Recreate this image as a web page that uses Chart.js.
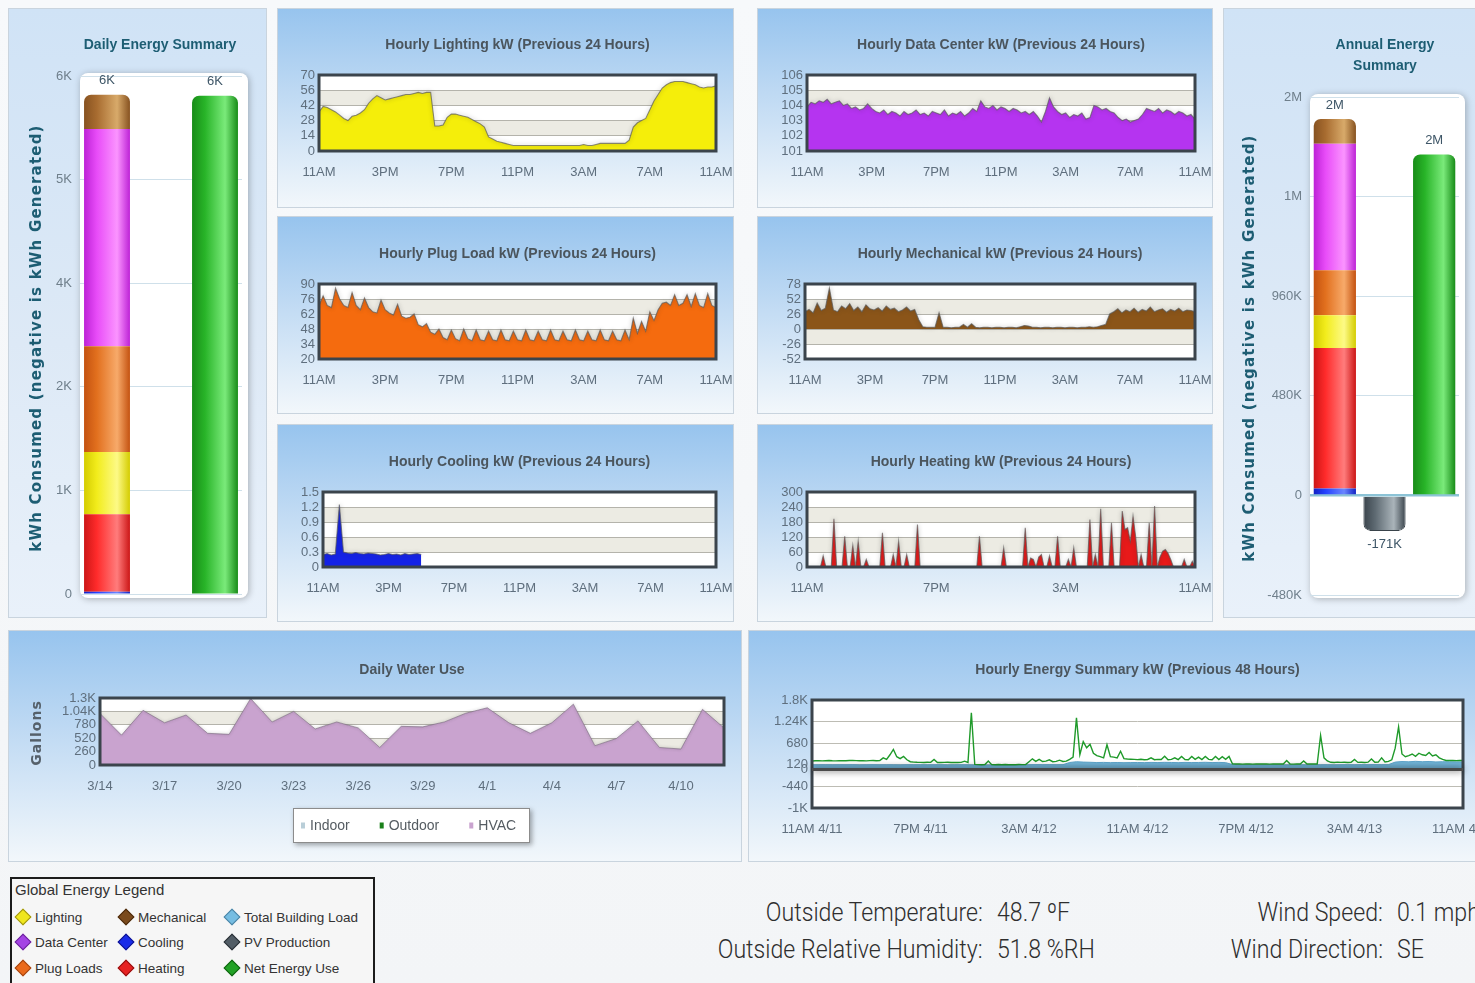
<!DOCTYPE html>
<html lang="en">
<head>
<meta charset="utf-8">
<title>Building Energy Dashboard</title>
<script src="https://cdn.jsdelivr.net/npm/chart.js@4.4.1/dist/chart.umd.min.js"></script>
<style>
  html, body { margin: 0; padding: 0; }
  body {
    width: 1475px; height: 983px; overflow: hidden; position: relative;
    background: linear-gradient(to bottom, #f7f9fb 0%, #f3f5f7 100%);
    font-family: 'Liberation Sans', Arial, sans-serif;
  }
  .panel {
    position: absolute; box-sizing: border-box; overflow: hidden;
    border: 1px solid #c9d4de;
    background: linear-gradient(to bottom, #97c4ee 0%, #bed9f3 42%, #f2f7fb 100%);
  }
  .panel.pale { background: linear-gradient(to bottom, #d0e3f6 0%, #dde9f6 55%, #e9f1fa 100%); }
  .panel canvas { position: absolute; left: -1px; top: -1px; }

  #glegend {
    position: absolute; left: 10px; top: 877px; width: 365px; height: 120px;
    box-sizing: border-box; border: 2px solid #1c1c1c; background: #f6f6f6;
    color: #333; font-family: 'Liberation Sans', Arial, sans-serif;
  }
  #glegend .gtitle { position: absolute; left: 3px; top: 2px; font-size: 15px; line-height: 18px; }
  #glegend .gi { position: absolute; height: 18px; display: flex; align-items: center; font-size: 13.5px; white-space: nowrap; }
  #glegend .gi i {
    display: inline-block; width: 10px; height: 10px; margin: 0 6px 0 2px;
    transform: rotate(45deg); background: var(--c); border: 1px solid var(--b);
  }

  .wx { position: absolute; font-family: Roboto, 'Liberation Sans', sans-serif; font-weight: 300;
        font-size: 26px; line-height: 30px; color: #2e2e2e; white-space: nowrap; }
  .wx.lab { text-align: right; transform: scaleX(0.89); transform-origin: right center; }
  .wx.val { transform: scaleX(0.89); transform-origin: left center; }
</style>
</head>
<body>

<div class="panel pale" style="left:8px;top:8px;width:259px;height:610px"><canvas id="cDaily" width="259" height="610"></canvas></div>

<div class="panel" style="left:277px;top:8px;width:457px;height:200px"><canvas id="cLight" width="457" height="200"></canvas></div>
<div class="panel" style="left:757px;top:8px;width:456px;height:200px"><canvas id="cData" width="456" height="200"></canvas></div>
<div class="panel" style="left:277px;top:216px;width:457px;height:198px"><canvas id="cPlug" width="457" height="198"></canvas></div>
<div class="panel" style="left:757px;top:216px;width:456px;height:198px"><canvas id="cMech" width="456" height="198"></canvas></div>
<div class="panel" style="left:277px;top:424px;width:457px;height:198px"><canvas id="cCool" width="457" height="198"></canvas></div>
<div class="panel" style="left:757px;top:424px;width:456px;height:198px"><canvas id="cHeat" width="456" height="198"></canvas></div>

<div class="panel pale" style="left:1223px;top:8px;width:270px;height:610px"><canvas id="cAnnual" width="270" height="610"></canvas></div>

<div class="panel" style="left:8px;top:630px;width:734px;height:232px"><canvas id="cWater" width="734" height="232"></canvas></div>
<div class="panel" style="left:748px;top:630px;width:760px;height:232px"><canvas id="cSummary" width="760" height="232"></canvas></div>

<div id="glegend">
  <div class="gtitle">Global Energy Legend</div>
  <div class="gi" style="left:3px;top:29px"><i style="--c:#efe61e;--b:#9c9210"></i>Lighting</div>
  <div class="gi" style="left:3px;top:54px"><i style="--c:#a443e4;--b:#6a2398"></i>Data Center</div>
  <div class="gi" style="left:3px;top:80px"><i style="--c:#ea6a1c;--b:#a04410"></i>Plug Loads</div>
  <div class="gi" style="left:106px;top:29px"><i style="--c:#7a4a1c;--b:#4a2a0c"></i>Mechanical</div>
  <div class="gi" style="left:106px;top:54px"><i style="--c:#1a2ce8;--b:#10148a"></i>Cooling</div>
  <div class="gi" style="left:106px;top:80px"><i style="--c:#e62222;--b:#901010"></i>Heating</div>
  <div class="gi" style="left:212px;top:29px"><i style="--c:#76bde2;--b:#4a82a2"></i>Total Building Load</div>
  <div class="gi" style="left:212px;top:54px"><i style="--c:#525d66;--b:#2a3036"></i>PV Production</div>
  <div class="gi" style="left:212px;top:80px"><i style="--c:#22a226;--b:#106010"></i>Net Energy Use</div>
</div>

<div class="wx lab" style="top:897px;right:492px">Outside Temperature:</div>
<div class="wx val" style="top:897px;left:997px">48.7 ºF</div>
<div class="wx lab" style="top:934px;right:492px">Outside Relative Humidity:</div>
<div class="wx val" style="top:934px;left:997px">51.8 %RH</div>
<div class="wx lab" style="top:897px;right:92px">Wind Speed:</div>
<div class="wx val" style="top:897px;left:1397px">0.1 mph</div>
<div class="wx lab" style="top:934px;right:92px">Wind Direction:</div>
<div class="wx val" style="top:934px;left:1397px">SE</div>

<script>
// ---- Energy breakdown (kWh) ----
const LOAD_SERIES = ['Cooling', 'Heating', 'Lighting', 'Plug Loads', 'Data Center', 'Mechanical'];
const BAR_CATEGORIES = ['Consumption', 'PV Production', 'Net Energy Use'];
const DAILY_LOAD_KWH = [25, 900, 720, 1225, 2515, 399];
const DAILY_PV_KWH = -12;
const ANNUAL_LOAD_KWH = [33000, 677000, 158000, 217000, 610000, 119000];
const ANNUAL_PV_KWH = -171000;

// ---- Hourly loads, previous 24 hours (15-minute samples from 11AM) ----
const HOUR_TICKS = ['11AM', '3PM', '7PM', '11PM', '3AM', '7AM', '11AM'];
const HEAT_TICKS = ['11AM', '7PM', '3AM', '11AM'];

const LIGHTING_KW = [
  36, 41, 40, 38, 36, 33, 30, 28, 32, 33, 35, 38, 44, 48, 51, 49,
  47, 48, 49, 50, 51, 52, 52, 53, 54, 53, 54, 54, 23, 23, 24, 31,
  34, 34, 33, 32, 31, 29, 27, 25, 22, 13, 11, 9, 8, 7, 6, 5,
  5, 5, 5, 5, 5, 5, 5, 5, 5, 5, 5, 5, 5, 5, 5, 5,
  6, 5, 5, 6, 7, 7, 7, 7, 7, 7, 7, 10, 22, 26, 28, 30,
  38, 46, 52, 58, 61, 63, 64, 64, 64, 63, 62, 61, 59, 58, 59, 59,
  60
];
const DATA_CENTER_KW = [
  103.9, 104.2, 104.1, 104.3, 104.2, 104.4, 104.1, 104.2, 104.3,
  104.0, 104.1, 103.8, 103.9, 103.7, 103.8, 104.1, 103.8,
  103.6, 103.5, 103.7, 103.4, 103.6, 103.5, 103.3, 103.6, 103.4, 103.5, 103.7, 103.4,
  103.5, 103.3, 103.6, 103.5, 103.4, 103.7, 103.3, 103.5, 103.4, 103.6, 103.3, 103.5,
  103.8, 103.6, 104.3, 103.9,
  103.8, 104.0, 103.7, 103.9, 103.8, 103.6, 103.8, 103.7, 103.5, 103.6, 103.4, 103.6,
  103.3, 102.9, 103.6, 104.5, 103.9,
  103.6, 103.4, 103.5, 103.2, 103.4, 103.3, 103.5,
  103.1, 103.2, 104.0, 103.9, 103.7, 103.8, 103.6, 103.5,
  103.2, 103.0, 103.1, 102.9, 103.0, 103.1,
  103.4, 103.8, 103.7, 103.6, 103.8, 103.5, 103.7, 103.6, 103.4, 103.6, 103.5, 103.3, 103.4, 103.1
];
const PLUG_KW = [
  70, 79, 70, 68, 86, 76, 70, 68, 82, 70, 66, 77, 68, 64, 63, 75,
  66, 63, 61, 71, 60, 58, 59, 62, 52, 50, 53, 45, 43, 48, 40, 38,
  47, 39, 37, 48, 39, 37, 47, 38, 37, 46, 38, 37, 47, 38, 37, 46,
  38, 37, 47, 38, 37, 46, 38, 37, 47, 38, 37, 46, 38, 37, 47, 38,
  37, 46, 38, 37, 47, 38, 37, 46, 38, 37, 47, 38, 58, 44, 55, 46,
  64, 56, 66, 72, 73, 70, 80, 70, 72, 80, 69, 81, 70, 68, 81, 70,
  68
];
const MECHANICAL_KW = [
  30, 34, 28, 45, 32, 36, 71, 33, 30, 40, 35, 44, 32, 38, 30, 42,
  35, 33, 37, 31, 40, 34, 36, 30, 33, 38, 31, 34, 16, 4, 3, 3,
  3, 28, 3, 3, 2, 3, 3, 8, 3, 9, 3, 2, 3, 3, 2, 3,
  3, 2, 3, 3, 2, 4, 6, 5, 3, 3, 2, 3, 3, 2, 3, 3,
  2, 3, 3, 2, 3, 3, 4, 3, 4, 6, 8, 26, 30, 35, 28, 33,
  30, 36, 29, 34, 31, 38, 30, 33, 35, 29, 34, 31, 36, 30, 33, 32,
  30
];
// cooling readings stop shortly after 5PM
const COOLING_KW = [
  0.25, 0.27, 0.24, 0.26, 1.25, 0.30, 0.28, 0.27, 0.29, 0.27, 0.26, 0.28, 0.27,
  0.26, 0.24, 0.25, 0.27, 0.25, 0.26, 0.24, 0.27, 0.25, 0.26, 0.27, 0.25
];
// heating uses 10-minute samples
const HEATING_KW = [
  0, 0, 0, 0, 0, 0, 45, 0, 0, 0, 193, 0,
  0, 0, 123, 0, 0, 86, 0, 103, 0, 0, 30, 0,
  0, 0, 0, 0, 137, 0, 0, 0, 50, 0, 103, 0,
  0, 50, 0, 0, 0, 170, 0, 0, 0, 0, 0, 0,
  0, 0, 0, 0, 0, 0, 0, 0, 0, 0, 0, 0,
  0, 0, 0, 0, 123, 0, 0, 0, 0, 0, 0, 0,
  0, 76, 0, 0, 0, 0, 0, 0, 0, 157, 0, 36,
  30, 0, 40, 50, 0, 0, 45, 0, 0, 123, 0, 0,
  0, 30, 0, 76, 0, 0, 0, 0, 0, 190, 0, 50,
  0, 233, 0, 0, 0, 177, 0, 0, 0, 224, 150, 157,
  103, 203, 120, 0, 50, 0, 0, 177, 0, 244, 0, 40,
  63, 70, 55, 30, 0, 0, 0, 0, 30, 0, 0, 23,
  0
];

// ---- Daily water use (gallons) ----
const WATER_DAYS = ['3/14', '3/15', '3/16', '3/17', '3/18', '3/19', '3/20', '3/21', '3/22', '3/23',
  '3/24', '3/25', '3/26', '3/27', '3/28', '3/29', '3/30', '3/31', '4/1', '4/2',
  '4/3', '4/4', '4/5', '4/6', '4/7', '4/8', '4/9', '4/10', '4/11', '4/12'];
const WATER_INDOOR = [];
const WATER_OUTDOOR = [];
const WATER_HVAC = [1000, 580, 1060, 820, 970, 615, 595, 1290, 835, 1040,
  700, 835, 720, 340, 750, 740, 835, 1005, 1110, 820,
  615, 820, 1180, 375, 515, 855, 340, 310, 1080, 720];

// ---- Previous 48 hours (net use every 15 min, building load every 30 min) ----
const SUMMARY_TICKS = ['11AM 4/11', '7PM 4/11', '3AM 4/12', '11AM 4/12', '7PM 4/12', '3AM 4/13', '11AM 4/13'];
const NET_USE_KW = [
  220, 225, 228, 222, 226, 230, 224, 222, 228, 226, 225, 230, 235, 228, 226, 224,
  222, 228, 230, 226, 228, 300, 260, 380, 520, 330, 280, 336, 250, 200, 190, 185,
  182, 180, 185, 183, 260, 180, 178, 182, 185, 180, 183, 181, 184, 215, 182, 1470,
  130, 125, 122, 128, 220, 124, 120, 126, 123, 127, 122, 125, 121, 128, 124, 126,
  200, 275, 210, 260, 205, 215, 250, 200, 210, 240, 205, 215, 260, 320, 1340, 380,
  720, 560, 650, 420, 360, 330, 300, 640, 330, 320, 300, 470, 280, 270, 265, 260,
  255, 262, 250, 258, 300, 252, 260, 256, 340, 250, 262, 300, 255, 336, 258, 250,
  336, 260, 320, 255, 336, 262, 250, 336, 258, 330, 260, 336, 145, 140, 142, 138,
  140, 142, 138, 141, 139, 143, 140, 138, 142, 140, 141, 139, 230, 140, 138, 141,
  140, 220, 139, 142, 140, 141, 880, 300, 220, 185, 180, 190, 182, 186, 180, 184,
  260, 182, 185, 180, 188, 270, 186, 190, 300, 195, 210, 250, 550, 1100, 400, 330,
  360, 400, 340, 420, 380, 360, 440, 350, 380, 300, 260, 232, 230, 235, 228, 232,
  230
];
const BUILDING_LOAD_KW = [
  118, 120, 122, 119, 121, 120, 123, 118, 120, 122, 119, 121, 120, 118, 122, 120,
  121, 119, 120, 122, 118, 120, 121, 119, 115, 112, 114, 113, 115, 112, 114, 116,
  120, 125, 122, 124, 121, 123, 180, 200, 190, 185, 178, 182, 176, 180, 175, 178,
  180, 176, 182, 178, 184, 180, 176, 182, 178, 180, 185, 178, 182, 176, 125, 118,
  116, 118, 115, 117, 119, 116, 118, 115, 120, 118, 122, 119, 121, 118, 120, 122,
  120, 123, 121, 125, 122, 124, 190, 205, 198, 210, 200, 206, 195, 200, 198, 196,
  195
];

// ---- Shared styling ----
const TICK_COLOR = '#5f6f7e';
const TITLE_COLOR = '#4b555d';
const TEAL = '#1d5d73';
const BAND = '#ecebe3';
const BAR_FRACTION = 0.85;
const TITLE_FONT = 'bold 14px "Liberation Sans", Arial, sans-serif';
const LOAD_SHADES = [
  ['#1222c4', '#2442ff', '#6a86ff'],
  ['#cc1616', '#ff2b2b', '#ff7c7c'],
  ['#d4cc00', '#f2ec1c', '#fdfa86'],
  ['#c45210', '#e2701e', '#f7aa6a'],
  ['#bd22d6', '#e84cf8', '#fb94ff'],
  ['#875220', '#a86c30', '#d8aa6a']
];
const PV_SHADE = ['#3a444c', '#5e6a72', '#aab4ba'];
const NET_SHADE = ['#188c18', '#28b428', '#7aea7a'];

Chart.defaults.font.family = "'Liberation Sans', Arial, sans-serif";

// keep axis label overhang from shrinking the plot area
const fixX = h => s => { s.height = h; s.paddingLeft = 0; s.paddingRight = 0; };
const fixY = w => s => { s.width = w; s.paddingTop = 0; s.paddingBottom = 0; };

// ---- Drawing helpers ----
function captions(items) {
  return {
    id: 'captions',
    afterDraw(chart) {
      const c = chart.ctx, a = chart.chartArea;
      items.forEach(t => {
        c.save();
        c.font = t.font;
        c.fillStyle = t.color;
        c.textAlign = 'center';
        c.textBaseline = 'middle';
        if (t.spacing) c.letterSpacing = t.spacing;
        const x = t.x === 'center' ? (a.left + a.right) / 2 : t.x;
        c.translate(x, t.y);
        if (t.rotate) c.rotate(t.rotate);
        c.fillText(t.text, 0, 0);
        c.restore();
      });
    }
  };
}

function plotBands(withBands) {
  return {
    id: 'plotBands',
    beforeDraw(chart) {
      const c = chart.ctx, a = chart.chartArea, y = chart.scales.y;
      c.save();
      c.fillStyle = '#ffffff';
      c.fillRect(a.left, a.top, a.width, a.height);
      if (withBands) {
        const vals = y.ticks.map(t => t.value).sort((p, q) => q - p);
        c.fillStyle = BAND;
        for (let k = 1; k < vals.length - 1; k += 2) {
          const y1 = y.getPixelForValue(vals[k]);
          const y2 = y.getPixelForValue(vals[k + 1]);
          c.fillRect(a.left, y1, a.width, y2 - y1);
        }
      }
      c.restore();
    },
    afterDatasetsDraw(chart) {
      const c = chart.ctx, a = chart.chartArea;
      c.save();
      c.strokeStyle = '#3b444c';
      c.lineWidth = 3;
      c.strokeRect(a.left, a.top, a.width, a.height);
      c.restore();
    }
  };
}

function glow(blur) {
  return {
    id: 'glow',
    beforeDatasetDraw(chart) {
      const c = chart.ctx;
      c.save();
      c.shadowColor = 'rgba(40,40,40,0.5)';
      c.shadowBlur = blur;
    },
    afterDatasetDraw(chart) { chart.ctx.restore(); }
  };
}

function hourlyPanel(id, o) {
  const el = document.getElementById(id);
  const H = el.height;
  return new Chart(el, {
    type: 'line',
    data: {
      datasets: [{
        data: o.values.map((v, i) => ({ x: i * o.step, y: v })),
        backgroundColor: o.color,
        borderColor: 'rgba(90,90,90,0.7)',
        borderWidth: 1.1,
        fill: o.fill || 'start',
        pointRadius: 0,
        tension: 0
      }]
    },
    options: {
      responsive: false, animation: false, events: [],
      layout: { padding: { left: 0, top: o.top, right: o.right, bottom: H - o.bottom - 30 } },
      plugins: { legend: { display: false }, tooltip: { enabled: false } },
      scales: {
        x: {
          type: 'linear', min: 0, max: 24,
          grid: { display: false }, border: { display: false },
          ticks: {
            stepSize: o.tickStep, autoSkip: false, maxRotation: 0, padding: 6,
            color: TICK_COLOR, font: { size: 13 },
            callback: (v, i) => o.ticks[i]
          },
          afterFit: fixX(30)
        },
        y: {
          min: o.min, max: o.max,
          grid: { color: '#b4b3ab', drawTicks: false },
          border: { display: false },
          ticks: {
            stepSize: o.yStep, autoSkip: false, padding: 4,
            color: TICK_COLOR, font: { size: 13 },
            callback: o.fmt || (v => String(v))
          },
          afterFit: fixY(o.left)
        }
      }
    },
    plugins: [
      plotBands(true), glow(4),
      captions([{ text: o.title, x: 'center', y: o.titleY, font: TITLE_FONT, color: TITLE_COLOR }])
    ]
  });
}

// cylindrical shading across a bar's width
function cylinder(shade) {
  return ctx => {
    const chart = ctx.chart, xs = chart.scales.x;
    if (ctx.type !== 'data' || !xs || !chart.chartArea) return shade[1];
    const cx = xs.getPixelForValue(ctx.dataIndex);
    const half = xs.width / chart.data.labels.length * BAR_FRACTION / 2;
    const g = chart.ctx.createLinearGradient(cx - half, 0, cx + half, 0);
    g.addColorStop(0, shade[0]);
    g.addColorStop(0.28, shade[1]);
    g.addColorStop(0.72, shade[2]);
    g.addColorStop(1, shade[0]);
    return g;
  };
}

function barValueLabels(entries) {
  return {
    id: 'barValueLabels',
    afterDatasetsDraw(chart) {
      const c = chart.ctx, xs = chart.scales.x, ys = chart.scales.y;
      c.save();
      c.font = '13px "Liberation Sans", Arial, sans-serif';
      c.fillStyle = '#3e5667';
      c.textAlign = 'center';
      c.textBaseline = 'middle';
      entries.forEach(e => {
        const y = ys.getPixelForValue(e.value) + (e.below ? 14 : -14);
        c.fillText(e.text, xs.getPixelForValue(e.index), y);
      });
      c.restore();
    }
  };
}

function roundedPlot(pad) {
  return {
    id: 'roundedPlot',
    beforeDraw(chart) {
      const c = chart.ctx, a = chart.chartArea;
      c.save();
      c.shadowColor = 'rgba(0,0,0,0.28)';
      c.shadowBlur = 7;
      c.shadowOffsetX = 1;
      c.shadowOffsetY = 1;
      c.fillStyle = '#ffffff';
      c.beginPath();
      c.roundRect(a.left - pad.l, a.top - pad.t, a.width + pad.l + pad.r, a.height + pad.t + pad.b, 8);
      c.fill();
      c.restore();
    }
  };
}

function energyBars(id, o) {
  const el = document.getElementById(id);
  const H = el.height;
  const total = o.loads.reduce((s, v) => s + v, 0);
  const net = total + o.pv;
  const datasets = LOAD_SERIES.map((name, k) => ({
    label: name,
    data: [o.loads[k], null, null],
    backgroundColor: cylinder(LOAD_SHADES[k]),
    borderRadius: k === LOAD_SERIES.length - 1 ? 7 : 0
  }));
  datasets.push({ label: 'PV Production', data: [null, o.pv, null], backgroundColor: cylinder(PV_SHADE),
    borderRadius: 7, borderWidth: 1, borderColor: '#39434a' });
  datasets.push({ label: 'Net Energy Use', data: [null, null, net], backgroundColor: cylinder(NET_SHADE),
    borderRadius: 7 });
  const labels = [{ index: 0, value: total, text: o.fmt(total) }, { index: 2, value: net, text: o.fmt(net) }];
  if (o.showPv) labels.push({ index: 1, value: o.pv, text: o.fmt(o.pv), below: true });
  return new Chart(el, {
    type: 'bar',
    data: { labels: BAR_CATEGORIES, datasets },
    options: {
      responsive: false, animation: false, events: [],
      datasets: { bar: { barPercentage: BAR_FRACTION, categoryPercentage: 1, borderWidth: 0 } },
      layout: { padding: { left: 0, top: o.top, right: o.right, bottom: H - o.bottom } },
      plugins: { legend: { display: false }, tooltip: { enabled: false } },
      scales: {
        x: { stacked: true, display: false },
        y: {
          stacked: true, min: o.min, max: o.max,
          grid: {
            drawTicks: false,
            color: c => (c.tick && c.tick.value === 0 && o.min < 0) ? '#8cc3d6' : '#cfe0ea',
            lineWidth: c => (c.tick && c.tick.value === 0 && o.min < 0) ? 2.5 : 1
          },
          border: { display: false },
          ticks: { stepSize: o.step, autoSkip: false, padding: 8, color: '#6f7f8b', font: { size: 13 }, callback: o.fmt },
          afterFit: fixY(o.left)
        }
      }
    },
    plugins: [roundedPlot(o.plotPad), barValueLabels(labels), captions(o.captions)]
  });
}

const shortK = v => v === 0 ? '0' : Math.round(v / 1000) + 'K';
const shortKM = v => v === 0 ? '0' : (Math.abs(v) >= 1e6 ? Math.round(v / 1e6) + 'M' : Math.round(v / 1000) + 'K');
const axisTitleFont = 'bold 15px "DejaVu Sans", Verdana, sans-serif';

// ---- Daily energy summary ----
energyBars('cDaily', {
  loads: DAILY_LOAD_KWH, pv: DAILY_PV_KWH, showPv: false,
  min: 0, max: 6000, step: 1200, fmt: shortK,
  left: 72, right: 25, top: 68, bottom: 586,
  plotPad: { l: 0, r: 6, t: 3, b: 4 },
  captions: [
    { text: 'Daily Energy Summary', x: 152, y: 37, font: TITLE_FONT, color: TEAL },
    { text: 'kWh Consumed (negative is kWh Generated)', x: 29, y: 330, rotate: -Math.PI / 2, font: axisTitleFont, color: TEAL, spacing: '1.2px' }
  ]
});

// ---- Annual energy summary ----
energyBars('cAnnual', {
  loads: ANNUAL_LOAD_KWH, pv: ANNUAL_PV_KWH, showPv: true,
  min: -480000, max: 1920000, step: 480000, fmt: shortKM,
  left: 87, right: 34, top: 89, bottom: 587,
  plotPad: { l: 0, r: 6, t: 3, b: 3 },
  captions: [
    { text: 'Annual Energy', x: 162, y: 37, font: TITLE_FONT, color: TEAL },
    { text: 'Summary', x: 162, y: 58, font: TITLE_FONT, color: TEAL },
    { text: 'kWh Consumed (negative is kWh Generated)', x: 27, y: 340, rotate: -Math.PI / 2, font: axisTitleFont, color: TEAL, spacing: '1.2px' }
  ]
});

// ---- Hourly panels ----
hourlyPanel('cLight', { values: LIGHTING_KW, step: 0.25, color: '#f5ee0a', min: 0, max: 70, yStep: 14,
  left: 42, right: 18, top: 67, bottom: 143, ticks: HOUR_TICKS, tickStep: 4,
  title: 'Hourly Lighting kW (Previous 24 Hours)', titleY: 37 });
hourlyPanel('cData', { values: DATA_CENTER_KW, step: 0.25, color: '#b534f0', min: 101, max: 106, yStep: 1,
  left: 50, right: 18, top: 67, bottom: 143, ticks: HOUR_TICKS, tickStep: 4,
  title: 'Hourly Data Center kW (Previous 24 Hours)', titleY: 37 });
hourlyPanel('cPlug', { values: PLUG_KW, step: 0.25, color: '#f56b0e', min: 20, max: 90, yStep: 14,
  left: 42, right: 18, top: 68, bottom: 143, ticks: HOUR_TICKS, tickStep: 4,
  title: 'Hourly Plug Load kW (Previous 24 Hours)', titleY: 38 });
hourlyPanel('cMech', { values: MECHANICAL_KW, step: 0.25, color: '#8b5519', min: -52, max: 78, yStep: 26, fill: 'origin',
  left: 48, right: 18, top: 68, bottom: 143, ticks: HOUR_TICKS, tickStep: 4,
  title: 'Hourly Mechanical kW (Previous 24 Hours)', titleY: 38 });
hourlyPanel('cCool', { values: COOLING_KW, step: 0.25, color: '#1422e6', min: 0, max: 1.5, yStep: 0.3,
  left: 46, right: 18, top: 68, bottom: 143, ticks: HOUR_TICKS, tickStep: 4,
  fmt: v => v === 0 ? '0' : v.toFixed(1),
  title: 'Hourly Cooling kW (Previous 24 Hours)', titleY: 38 });
hourlyPanel('cHeat', { values: HEATING_KW, step: 1 / 6, color: '#e81a1a', min: 0, max: 300, yStep: 60,
  left: 50, right: 18, top: 68, bottom: 143, ticks: HEAT_TICKS, tickStep: 8,
  title: 'Hourly Heating kW (Previous 24 Hours)', titleY: 38 });

// ---- Daily water use ----
(function () {
  const el = document.getElementById('cWater');
  const legendBox = { x: 285, y: 178, w: 237, h: 35 };
  new Chart(el, {
    type: 'line',
    data: {
      labels: WATER_DAYS,
      datasets: [
        { label: 'Indoor', data: WATER_INDOOR, backgroundColor: '#b9ced8', borderColor: '#b9ced8', pointRadius: 0 },
        { label: 'Outdoor', data: WATER_OUTDOOR, backgroundColor: '#1a801a', borderColor: '#1a801a', pointRadius: 0 },
        { label: 'HVAC', data: WATER_HVAC, backgroundColor: '#c9a3cf', borderColor: 'rgba(120,105,125,0.6)',
          borderWidth: 1, fill: 'origin', pointRadius: 0, tension: 0 }
      ]
    },
    options: {
      responsive: false, animation: false, events: [],
      layout: { padding: { left: 0, top: 68, right: 18, bottom: 232 - 135 - 30 } },
      plugins: { legend: { display: false }, tooltip: { enabled: false } },
      scales: {
        x: {
          grid: { display: false }, border: { display: false },
          ticks: { autoSkip: false, maxRotation: 0, padding: 6, color: TICK_COLOR, font: { size: 13 },
            callback: (v, i) => i % 3 === 0 ? WATER_DAYS[i] : '' },
          afterFit: fixX(30)
        },
        y: {
          min: 0, max: 1300,
          grid: { color: '#b4b3ab', drawTicks: false }, border: { display: false },
          ticks: { stepSize: 260, autoSkip: false, padding: 4, color: TICK_COLOR, font: { size: 13 },
            callback: v => v >= 1000 ? (v / 1000) + 'K' : String(v) },
          afterFit: fixY(92)
        }
      }
    },
    plugins: [
      plotBands(true), glow(3),
      {
        id: 'waterLegend',
        afterDraw(chart) {
          const c = chart.ctx, b = legendBox;
          c.save();
          c.shadowColor = 'rgba(0,0,0,0.35)';
          c.shadowBlur = 5; c.shadowOffsetX = 2; c.shadowOffsetY = 2;
          c.fillStyle = '#ffffff';
          c.fillRect(b.x, b.y, b.w, b.h);
          c.shadowColor = 'transparent';
          c.strokeStyle = '#8c8c8c'; c.lineWidth = 1;
          c.strokeRect(b.x + 0.5, b.y + 0.5, b.w - 1, b.h - 1);
          c.font = '14px "Liberation Sans", Arial, sans-serif';
          c.textBaseline = 'middle';
          let x = b.x + 8;
          const cy = b.y + b.h / 2;
          chart.data.datasets.forEach(ds => {
            c.fillStyle = ds.backgroundColor;
            c.fillRect(x, cy - 3, 4, 6);
            x += 9;
            c.fillStyle = '#555c62';
            c.fillText(ds.label, x, cy + 1);
            x += c.measureText(ds.label).width + 30;
          });
          c.restore();
        }
      },
      captions([
        { text: 'Daily Water Use', x: 'center', y: 40, font: TITLE_FONT, color: TITLE_COLOR },
        { text: 'Gallons', x: 29, y: 103, rotate: -Math.PI / 2, font: 'bold 14px "DejaVu Sans", Verdana, sans-serif', color: '#55606a', spacing: '1px' }
      ])
    ]
  });
})();

// ---- Hourly energy summary, previous 48 hours ----
(function () {
  const el = document.getElementById('cSummary');
  new Chart(el, {
    type: 'line',
    data: {
      datasets: [
        { label: 'Net Energy Use', data: NET_USE_KW.map((v, i) => ({ x: i * 0.25, y: v })),
          borderColor: '#1f9a2a', borderWidth: 1.4, pointRadius: 0, fill: false, tension: 0 },
        { label: 'Total Building Load', data: BUILDING_LOAD_KW.map((v, i) => ({ x: i * 0.5, y: v })),
          borderColor: '#5fa6cc', backgroundColor: '#72b6da', borderWidth: 1, pointRadius: 0, fill: 'origin', tension: 0 }
      ]
    },
    options: {
      responsive: false, animation: false, events: [],
      layout: { padding: { left: 0, top: 70, right: 45, bottom: 232 - 178 - 30 } },
      plugins: { legend: { display: false }, tooltip: { enabled: false } },
      scales: {
        x: {
          type: 'linear', min: 0, max: 48,
          grid: { display: false }, border: { display: false },
          ticks: { stepSize: 8, autoSkip: false, maxRotation: 0, padding: 6, color: TICK_COLOR, font: { size: 13 },
            callback: (v, i) => SUMMARY_TICKS[i] },
          afterFit: fixX(30)
        },
        y: {
          min: -1000, max: 1800,
          grid: { color: '#bdbcb4', drawTicks: false }, border: { display: false },
          afterBuildTicks: s => { s.ticks.push({ value: 0 }); s.ticks.sort((p, q) => p.value - q.value); },
          ticks: { stepSize: 560, autoSkip: false, padding: 4, color: TICK_COLOR, font: { size: 13 },
            callback: v => Math.abs(v) >= 1000 ? (v / 1000) + 'K' : String(v) },
          afterFit: fixY(64)
        }
      }
    },
    plugins: [
      plotBands(false),
      {
        id: 'zeroLine',
        afterDatasetsDraw(chart) {
          const c = chart.ctx, a = chart.chartArea, y = chart.scales.y.getPixelForValue(0);
          c.save();
          c.strokeStyle = '#4a4a4a';
          c.lineWidth = 3;
          c.shadowColor = 'rgba(0,0,0,0.7)';
          c.shadowBlur = 7;
          c.beginPath();
          c.moveTo(a.left, y);
          c.lineTo(a.right, y);
          c.stroke();
          c.restore();
        }
      },
      captions([{ text: 'Hourly Energy Summary kW (Previous 48 Hours)', x: 'center', y: 40, font: TITLE_FONT, color: TITLE_COLOR }])
    ]
  });
})();
</script>
</body>
</html>
